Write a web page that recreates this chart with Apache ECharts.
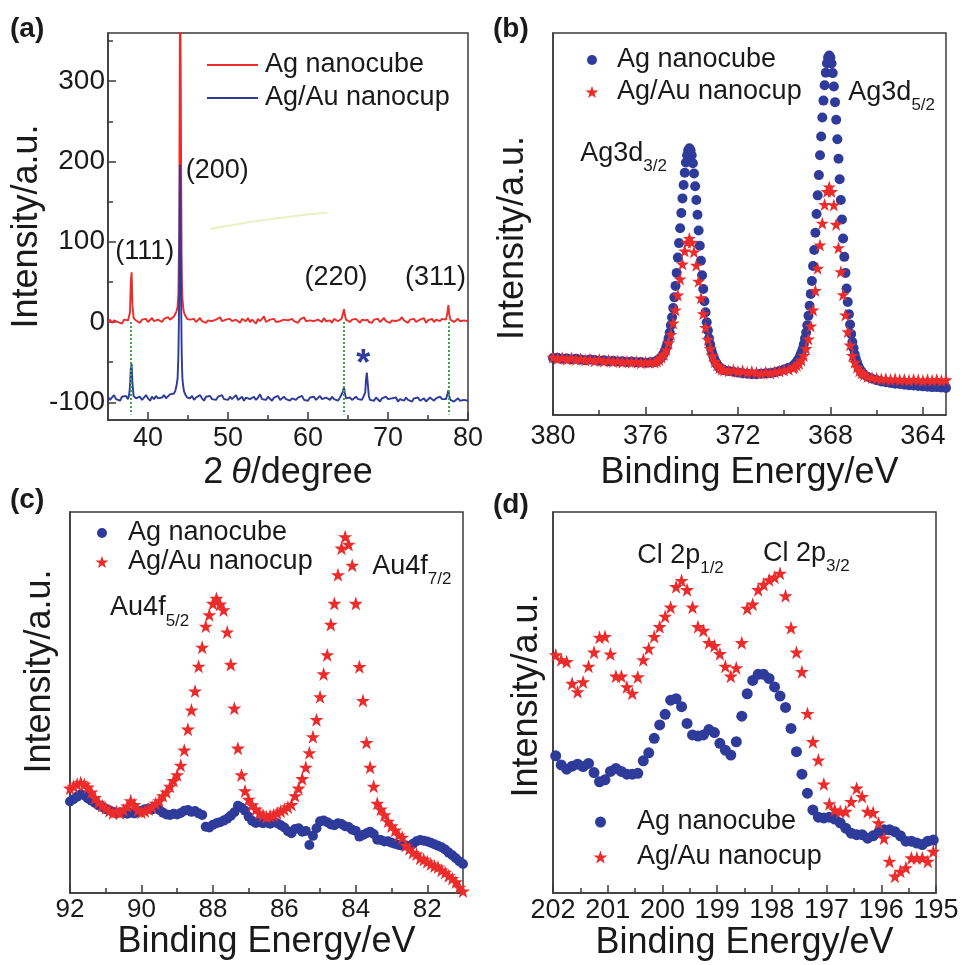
<!DOCTYPE html>
<html>
<head>
<meta charset="utf-8">
<title>XRD / XPS of Ag nanocubes and Ag/Au nanocups</title>
<script src="https://cdn.jsdelivr.net/npm/echarts@6/dist/echarts.min.js"></script>
<style>
  html, body { margin: 0; padding: 0; background: #fff; }
  #chart { width: 962px; height: 965px; }
</style>
</head>
<body>
<div id="chart"></div>
<script>
// ---------- (a) XRD ----------
const aX = [
  35, 35.25, 35.5, 35.75, 36, 36.25, 36.5, 36.75, 37, 37.25, 37.5,
  37.65, 37.75, 37.85, 37.95, 38.05, 38.2,
  38.5, 38.75, 39, 39.25, 39.5, 39.75, 40, 40.25, 40.5, 40.75, 41, 41.25, 41.5, 41.75, 42, 42.25, 42.5, 42.75, 43, 43.25,
  43.4, 43.55, 43.7, 43.8, 43.9, 43.95, 44, 44.05, 44.1, 44.15, 44.2, 44.25, 44.3, 44.4, 44.5, 44.65, 44.9,
  45.25, 45.5, 45.75, 46, 46.25, 46.5, 46.75, 47, 47.25, 47.5, 47.75, 48, 48.25, 48.5, 48.75, 49, 49.25, 49.5, 49.75, 50,
  50.25, 50.5, 50.75, 51, 51.25, 51.5, 51.75, 52, 52.25, 52.5, 52.75, 53, 53.25, 53.5, 53.75, 54, 54.25, 54.5, 54.75, 55,
  55.25, 55.5, 55.75, 56, 56.25, 56.5, 56.75, 57, 57.25, 57.5, 57.75, 58, 58.25, 58.5, 58.75, 59, 59.25, 59.5, 59.75, 60,
  60.25, 60.5, 60.75, 61, 61.25, 61.5, 61.75, 62, 62.25, 62.5, 62.75, 63, 63.25, 63.5, 63.75, 64,
  64.2, 64.35, 64.5, 64.6, 64.75,
  65, 65.25, 65.5, 65.75, 66, 66.25, 66.5, 66.75, 67,
  67.15, 67.25, 67.35, 67.45, 67.6,
  67.75, 68, 68.25, 68.5, 68.75, 69, 69.25, 69.5, 69.75, 70, 70.25, 70.5, 70.75, 71, 71.25, 71.5, 71.75, 72, 72.25, 72.5,
  72.75, 73, 73.25, 73.5, 73.75, 74, 74.25, 74.5, 74.75, 75, 75.25, 75.5, 75.75, 76, 76.25, 76.5, 76.75, 77, 77.25,
  77.35, 77.45, 77.55, 77.65, 77.8,
  78, 78.25, 78.5, 78.75, 79, 79.25, 79.5, 79.75, 80
];
// Ag nanocube
const aRed = [
  0, 3, -1, 2, 4, 0, 1, -2, 3, 1, 2,
  4, 12, 50, 62, 22, 5,
  2, 2, -1, 3, 1, 4, 0, 2, 5, 1, -1, 3, 2, 0, 4, 2, 6, 3, 5, 7,
  10, 13, 19, 34, 115, 250, 385, 390, 290, 170, 85, 48, 30, 18, 12, 8, 4,
  3, 1, 4, 0, 2, 5, 1, 3, -1, 2, 4, 1, 0, 3, 2, 6, 1, -1, 3, 2,
  4, 1, 0, 3, 2, -1, 4, 2, 1, 5, 0, 3, 2, -2, 4, 1, 3, 7, 0, 2,
  3, 1, 4, 0, 2, 1, -1, 3, 5, 2, 0, 4, 1, 2, -1, 3, 2, 6, 1, 0,
  2, 4, 1, -1, 3, 2, 0, 5, 1, 3, 2, -1, 4, 2, 1, 3,
  4, 10, 16, 9, 3,
  2, 0, 3, 1, 4, 2, -1, 3, 1,
  2, 4, 1, 3, 0,
  2, -1, 3, 1, 4, 0, 2, 5, 1, 3, -1, 2, 4, 1, 0, 3, 6, 2, 1, -1,
  3, 2, 4, 0, 1, 3, 2, 5, -1, 2, 1, 4, 0, 3, 2, 1, 4, 2, 3,
  5, 13, 21, 10, 3,
  3, 0, 2, 4, 1, -1, 2, 3, 1
];
// Ag/Au nanocup
const aBlue = [
  -93, -97, -95, -91, -96, -94, -98, -93, -95, -92, -96,
  -90, -80, -58, -52, -75, -92,
  -95, -96, -93, -97, -94, -91, -95, -98, -93, -96, -92, -95, -97, -94, -91, -95, -93, -90, -92, -89,
  -86, -80, -70, -42, 30, 120, 196, 175, 95, 20, -30, -55, -70, -80, -86, -90, -94,
  -95, -92, -97, -94, -96, -91, -95, -98, -93, -95, -92, -96, -94, -97, -93, -95, -91, -96, -94, -97,
  -93, -96, -94, -91, -97, -95, -93, -98, -94, -92, -96, -95, -93, -97, -94, -90, -96, -95, -97, -93,
  -95, -98, -94, -96, -92, -97, -95, -93, -96, -94, -98, -95, -93, -97, -94, -96, -92, -97, -95, -98,
  -94, -96, -93, -97, -95, -92, -96, -98, -94, -95, -97, -93, -96, -95, -98, -94,
  -94, -87, -81, -88, -95,
  -96, -94, -97, -95, -93, -96, -94, -97, -95,
  -88, -72, -63, -74, -92,
  -97, -95, -98, -94, -96, -99, -95, -97, -93, -96, -98, -95, -97, -94, -99, -96, -95, -98, -94, -97,
  -96, -99, -95, -97, -94, -98, -96, -95, -99, -97, -94, -96, -98, -95, -97, -93, -96, -98, -96,
  -94, -89, -85, -92, -97,
  -96, -99, -97, -95, -98, -100, -97, -99, -98
];
const aGuideX = [37.85, 64.5, 77.55];
const aGuideY = [0, -115];
const aSmudgeX = [47.75, 51.5, 54.9, 58.6, 62.4];
const aSmudgeY = [116, 122.5, 127.5, 132.5, 136];
const aNoteText = ['(111)', '(200)', '(220)', '(311)', '*'];
const aNoteX = [39.6, 48.65, 63.5, 75.95, 66.9];
const aNoteY = [87.5, 189, 55, 55, -53];
const aXTicks = [40, 50, 60, 70, 80];
const aXMinor = [45, 55, 65, 75];
const aYTicks = [-100, 0, 100, 200, 300];
const aYMinor = [-50, 50, 150, 250, 350];

// ---------- (b) Ag3d ----------
const bLeftX = [380, 379.8, 379.6, 379.4, 379.2, 379, 378.8, 378.6, 378.4, 378.2, 378, 377.8, 377.6, 377.4, 377.2, 377, 376.8, 376.6, 376.4, 376.2, 376, 375.8];
const bLeftBlue = [14.9, 15.0, 14.7, 14.8, 14.6, 14.7, 14.5, 14.3, 14.5, 14.4, 14.2, 14.3, 14.1, 14.2, 14.0, 14.1, 13.9, 14.0, 13.8, 13.9, 13.7, 13.8];
const bLeftRed = [15.1, 14.8, 15.0, 14.6, 14.9, 14.5, 14.7, 14.4, 14.6, 14.2, 14.5, 14.1, 14.3, 14.0, 14.2, 13.9, 14.1, 13.8, 14.0, 13.7, 13.9, 13.8];
const bPk1X = [375.6, 375.55, 375.5, 375.45, 375.4, 375.35, 375.3, 375.25, 375.2, 375.15, 375.1, 375.05, 375, 374.95, 374.9, 374.85, 374.8, 374.75, 374.7, 374.65,
  374.6, 374.55, 374.5, 374.45, 374.4, 374.35, 374.3, 374.25, 374.2, 374.15, 374.1, 374.05, 374, 373.95, 373.9, 373.85, 373.8, 373.75, 373.7, 373.65,
  373.6, 373.55, 373.5, 373.45, 373.4, 373.35, 373.3, 373.25, 373.2, 373.15, 373.1, 373.05, 373, 372.95, 372.9, 372.85, 372.8, 372.75, 372.7, 372.65, 372.6];
const bPk1Blue = [13.9, 14.0, 14.2, 14.4, 14.6, 14.9, 15.2, 15.7, 16.2, 16.9, 17.8, 18.8, 20.1, 21.6, 23.5, 25.6, 28.0, 30.8, 33.8, 37.2,
  41.2, 45.0, 48.9, 52.9, 56.7, 60.2, 63.4, 66.1, 68.0, 69.3, 69.8, 69.3, 68.0, 65.9, 63.2, 59.9, 56.3, 52.4, 48.3, 44.3,
  40.4, 36.6, 33.0, 29.8, 26.9, 24.3, 22.1, 20.1, 18.5, 17.1, 16.0, 15.1, 14.3, 13.7, 13.2, 12.8, 12.4, 12.2, 12.0, 11.8, 11.7];
const bPk1RedX = [375.6, 375.5, 375.4, 375.3, 375.2, 375.1, 375, 374.9, 374.8, 374.7, 374.6, 374.5, 374.4, 374.3, 374.2, 374.1,
  374, 373.9, 373.8, 373.7, 373.6, 373.5, 373.4, 373.3, 373.2, 373.1, 373, 372.9, 372.8, 372.7, 372.6];
const bPk1Red = [13.8, 14.1, 14.5, 15.1, 15.9, 17.1, 18.9, 21.1, 24.1, 27.5, 31.4, 35.6, 39.5, 42.9, 45.2, 46.2,
  45.2, 42.7, 39.2, 35.0, 30.6, 26.5, 22.9, 19.8, 17.4, 15.5, 14.0, 13.1, 12.4, 12.0, 11.8];
const bMidX = [372.4, 372.2, 372, 371.8, 371.6, 371.4, 371.2, 371, 370.8, 370.6, 370.4, 370.2, 370, 369.8, 369.6];
const bMidBlue = [11.5, 11.3, 11.1, 10.9, 10.8, 10.7, 10.7, 10.8, 10.9, 11.0, 11.2, 11.5, 11.9, 12.4, 12.9];
const bMidRed = [11.6, 11.8, 11.4, 11.6, 11.2, 11.4, 11.1, 10.9, 11.2, 11.0, 11.3, 11.5, 11.8, 12.0, 12.3];
const bPk2X = [369.55, 369.5, 369.45, 369.4, 369.35, 369.3, 369.25, 369.2, 369.15, 369.1, 369.05, 369, 368.95, 368.9, 368.85, 368.8, 368.75, 368.7, 368.65, 368.6,
  368.55, 368.5, 368.45, 368.4, 368.35, 368.3, 368.25, 368.2, 368.15, 368.1, 368.05, 368, 367.95, 367.9, 367.85, 367.8, 367.75, 367.7, 367.65, 367.6,
  367.55, 367.5, 367.45, 367.4, 367.35, 367.3, 367.25, 367.2, 367.15, 367.1, 367.05, 367, 366.95, 366.9, 366.85, 366.8, 366.75, 366.7, 366.65, 366.6, 366.55];
const bPk2Blue = [13.3, 13.5, 14.0, 14.4, 14.9, 15.6, 16.4, 17.3, 18.5, 20.0, 21.6, 23.5, 26.0, 28.6, 31.7, 35.1, 39.0, 43.2, 47.7, 52.6,
  57.5, 62.8, 68.0, 72.9, 77.9, 82.3, 86.3, 89.6, 92.1, 93.6, 94.1, 93.6, 92.0, 89.5, 86.0, 81.9, 77.3, 72.2, 67.1, 61.7,
  56.3, 51.2, 46.2, 41.4, 37.2, 33.1, 29.6, 26.4, 23.7, 21.2, 19.1, 17.5, 15.9, 14.7, 13.8, 12.9, 12.2, 11.7, 11.3, 10.8, 10.6];
const bPk2RedX = [369.55, 369.45, 369.35, 369.25, 369.15, 369.05, 368.95, 368.85, 368.75, 368.65, 368.55, 368.45, 368.35, 368.25, 368.15, 368.05,
  367.95, 367.85, 367.75, 367.65, 367.55, 367.45, 367.35, 367.25, 367.15, 367.05, 366.95, 366.85, 366.75, 366.65, 366.55];
const bPk2Red = [12.6, 13.0, 13.5, 14.4, 15.6, 17.4, 19.9, 23.3, 27.5, 32.6, 38.4, 44.5, 50.2, 55.1, 58.5, 59.7,
  58.5, 55.0, 49.9, 43.8, 37.5, 31.5, 26.2, 21.8, 18.3, 15.6, 13.8, 12.5, 11.6, 11.0, 10.6];
const bRightX = [366.4, 366.2, 366, 365.8, 365.6, 365.4, 365.2, 365, 364.8, 364.6, 364.4, 364.2, 364, 363.8, 363.6, 363.4, 363.2, 363];
const bRightBlue = [10.0, 9.5, 9.1, 8.8, 8.6, 8.4, 8.2, 8.1, 7.9, 7.8, 7.7, 7.6, 7.5, 7.4, 7.3, 7.3, 7.2, 7.1];
const bRightRed = [10.1, 9.8, 9.6, 9.4, 9.5, 9.3, 9.4, 9.2, 9.3, 9.1, 9.3, 9.2, 9.0, 9.2, 9.1, 9.3, 9.0, 9.2];
const bNoteText = ['{m|Ag3d}{s|3/2}', '{m|Ag3d}{s|5/2}'];
const bNoteX = [376.95, 365.35];
const bNoteY = [68.5, 84.5];
const bXTicks = [364, 368, 372, 376, 380];
const bXMinor = [366, 370, 374, 378];

// ---------- (c) Au4f ----------
const cX = [
  92, 91.9, 91.8, 91.7, 91.6, 91.5, 91.4, 91.3, 91.2, 91.1,
  91, 90.9, 90.8, 90.7, 90.6, 90.5, 90.4, 90.3, 90.2, 90.1,
  90, 89.9, 89.8, 89.7, 89.6, 89.5, 89.4, 89.3, 89.2, 89.1,
  89, 88.9, 88.8, 88.7, 88.6, 88.5, 88.4, 88.3, 88.2, 88.1,
  88, 87.9, 87.8, 87.7, 87.6, 87.5, 87.4, 87.3, 87.2, 87.1,
  87, 86.9, 86.8, 86.7, 86.6, 86.5, 86.4, 86.3, 86.2, 86.1,
  86, 85.9, 85.8, 85.7, 85.6, 85.5, 85.4, 85.3, 85.2, 85.1,
  85, 84.9, 84.8, 84.7, 84.6, 84.5, 84.4, 84.3, 84.2, 84.1,
  84, 83.9, 83.8, 83.7, 83.6, 83.5, 83.4, 83.3, 83.2, 83.1,
  83, 82.9, 82.8, 82.7, 82.6, 82.5, 82.4, 82.3, 82.2, 82.1,
  82, 81.9, 81.8, 81.7, 81.6, 81.5, 81.4, 81.3, 81.2, 81.1,
  81
];
const cBlue = [
  24.0, 24.6, 25.3, 25.9, 25.6, 24.8, 24.2, 23.6, 23.0, 22.6,
  22.0, 21.7, 21.3, 21.0, 21.2, 21.0, 20.8, 21.1, 20.9, 21.3,
  21.6, 22.0, 22.2, 21.9, 22.3, 21.8, 21.1, 20.6, 20.5, 20.8,
  20.6, 21.0, 21.6, 21.8, 21.3, 21.5, 20.9, 20.5, 17.4, 17.2,
  17.9, 18.3, 18.6, 19.0, 19.5, 20.3, 21.2, 22.9, 22.4, 21.6,
  20.0, 18.9, 18.4, 18.6, 18.3, 18.5, 18.2, 18.6, 18.3, 17.8,
  17.2, 16.2, 15.7, 16.8, 17.0, 16.1, 16.3, 12.6, 15.0, 17.0,
  18.8, 19.0, 18.6, 18.0, 17.8, 18.3, 18.1, 17.5, 17.3, 16.6,
  16.3, 14.8, 15.2, 15.7, 16.1, 15.5, 14.0, 13.9, 13.5, 13.6,
  13.2, 12.9, 12.6, 12.4, 12.5, 12.2, 12.9, 13.6, 13.9, 13.7,
  13.5, 13.2, 12.8, 12.4, 12.0, 11.4, 10.6, 9.9, 9.1, 8.3,
  7.6
];
const cRed = [
  27.5, 28.0, 28.6, 29.0, 28.5, 27.8, 26.5, 25.0, 23.8, 22.9,
  22.3, 21.6, 21.0, 21.4, 21.0, 21.8, 22.8, 24.2, 23.2, 21.8,
  21.2, 21.5, 22.0, 22.6, 23.5, 24.2, 25.5, 26.5, 28.0, 29.5,
  31.0, 33.5, 37.5, 43.0, 48.0, 53.0, 59.5, 64.5, 70.0, 73.0,
  76.0, 77.3, 75.8, 74.3, 68.5, 60.0, 48.5, 38.0, 31.0, 26.8,
  24.6, 23.1, 22.0, 21.0, 20.5, 20.0, 20.3, 20.5, 21.0, 21.5,
  22.0, 22.6, 23.2, 25.5, 27.5, 30.0, 33.0, 36.8, 41.0, 45.5,
  51.5, 57.5, 62.5, 70.5, 76.0, 83.5, 90.5, 93.5, 91.5, 86.0,
  76.0, 59.4, 50.5, 39.5, 33.0, 28.0, 23.5, 22.0, 20.5, 18.8,
  17.6, 16.5, 15.2, 14.6, 12.5, 11.6, 10.6, 10.2, 9.1, 8.8,
  8.2, 7.6, 7.1, 6.8, 6.0, 5.4, 4.5, 3.8, 2.9, 1.5,
  0.5
];
const cNoteText = ['{m|Au4f}{s|5/2}', '{m|Au4f}{s|7/2}'];
const cNoteX = [89.77, 82.43];
const cNoteY = [74.8, 85.8];
const cXTicks = [82, 84, 86, 88, 90, 92];
const cXMinor = [83, 85, 87, 89, 91];

// ---------- (d) Cl 2p ----------
const dX = [
  201.95, 201.85, 201.75, 201.65, 201.55, 201.45, 201.35, 201.25, 201.15, 201.05,
  200.95, 200.85, 200.75, 200.65, 200.55, 200.45, 200.35, 200.25, 200.15, 200.05,
  199.95, 199.85, 199.75, 199.65, 199.55, 199.45, 199.35, 199.25, 199.15, 199.05,
  198.95, 198.85, 198.75, 198.65, 198.55, 198.45, 198.35, 198.25, 198.15, 198.05,
  197.95, 197.85, 197.75, 197.65, 197.55, 197.45, 197.35, 197.25, 197.15, 197.05,
  196.95, 196.85, 196.75, 196.65, 196.55, 196.45, 196.35, 196.25, 196.15, 196.05,
  195.95, 195.85, 195.75, 195.65, 195.55, 195.45, 195.35, 195.25, 195.15, 195.05
];
const dBlue = [
  36.0, 33.6, 32.5, 33.3, 33.8, 33.2, 34.0, 31.6, 29.2, 29.7,
  31.9, 32.7, 31.9, 31.2, 31.2, 31.4, 34.7, 36.8, 40.6, 44.1,
  46.9, 50.6, 51.0, 48.9, 44.5, 41.5, 41.2, 41.5, 42.9, 42.1,
  39.3, 37.5, 36.2, 39.7, 46.4, 52.3, 55.8, 57.4, 57.4, 56.3,
  54.1, 51.7, 48.7, 43.2, 37.1, 31.2, 26.2, 21.8, 19.9, 19.7,
  19.9, 19.4, 18.4, 17.0, 15.7, 15.3, 15.3, 14.4, 15.0, 15.9,
  16.6, 16.6, 16.1, 15.0, 13.6, 13.6, 13.1, 12.7, 13.6, 13.9
];
const dRed = [
  62.5, 61.2, 60.7, 55.0, 52.8, 55.4, 59.5, 63.2, 67.1, 67.3,
  62.7, 56.9, 56.9, 54.1, 52.4, 56.7, 61.2, 64.2, 67.3, 69.9,
  72.6, 75.0, 80.4, 82.0, 79.6, 75.0, 69.9, 68.9, 65.7, 64.9,
  62.8, 59.5, 56.9, 59.1, 65.7, 74.7, 75.8, 79.6, 81.0, 82.2,
  82.9, 83.9, 78.0, 69.6, 63.2, 58.1, 47.1, 39.7, 34.9, 28.6,
  23.4, 21.8, 21.4, 21.4, 24.0, 27.5, 25.3, 21.4, 21.1, 18.4,
  14.4, 8.3, 4.4, 5.7, 6.6, 9.2, 9.2, 9.2, 8.3, 10.9
];
const dNoteText = ['{m|Cl 2p}{s|1/2}', '{m|Cl 2p}{s|3/2}'];
const dNoteX = [199.67, 197.37];
const dNoteY = [88.7, 89.2];
const dXTicks = [195, 196, 197, 198, 199, 200, 201, 202];
const dXMinor = [195.5, 196.5, 197.5, 198.5, 199.5, 200.5, 201.5];

// ---------- styling ----------
const FONT = '"Liberation Sans", Arial, Helvetica, sans-serif';
const RED = '#ec2b2b';
const BLUE = '#2e3b9b';
const GREEN = '#3da843';
const INK = '#1a1a1a';
const FRAME = '#3a3a3a';
const STAR = 'path://M50,4 L61.8,38.2 L97.6,38.2 L68.6,59.5 L79.4,93.1 L50,72.4 L20.6,93.1 L31.4,59.5 L2.4,38.2 L38.2,38.2 Z';

const zip = (xs, ys) => xs.map((x, i) => [x, ys[i]]);
const notes = (txt, xs, ys) => txt.map((t, i) => ({ name: t, value: [xs[i], ys[i]] }));

const noteRich = {
  m: { fontSize: 27, fontFamily: FONT, color: INK },
  s: { fontSize: 17, fontFamily: FONT, color: INK, padding: [26, 0, 0, 0] }
};

function xPair(grid, min, max, major, minor, o) {
  const base = { type: 'value', gridIndex: grid, min: min, max: max, inverse: !!o.inverse, position: 'bottom', splitLine: { show: false } };
  return [
    Object.assign({}, base, {
      axisLine: { show: true, onZero: false, lineStyle: { color: FRAME, width: 1.5 } },
      axisTick: { show: true, inside: true, length: 8, customValues: major, lineStyle: { color: FRAME, width: 1.5 } },
      axisLabel: { show: true, customValues: major, margin: o.margin, fontSize: o.size, fontFamily: FONT, color: INK },
      name: o.name, nameLocation: 'middle', nameGap: o.gap,
      nameTextStyle: Object.assign({ fontSize: 36, fontFamily: FONT, color: INK }, o.nameStyle || {})
    }),
    Object.assign({}, base, {
      axisLine: { show: false, onZero: false },
      axisTick: { show: true, inside: true, length: 5, customValues: minor, lineStyle: { color: FRAME, width: 1.5 } },
      axisLabel: { show: false }
    })
  ];
}

function yPlain(grid, gap, pad) {
  return {
    type: 'value', gridIndex: grid, min: 0, max: 100, position: 'left',
    axisLine: { show: true, onZero: false, lineStyle: { color: FRAME, width: 1.5 } },
    axisTick: { show: false }, axisLabel: { show: false }, splitLine: { show: false },
    name: 'Intensity/a.u.', nameLocation: 'middle', nameGap: gap,
    nameTextStyle: { fontSize: 36, fontFamily: FONT, color: INK, padding: pad }
  };
}

function legendOne(name, icon, color, left, top, w, h, pad) {
  return {
    show: true, selectedMode: false, orient: 'vertical', left: left, top: top, padding: 0,
    itemWidth: w, itemHeight: h, itemGap: 0,
    data: [{ name: name, icon: icon, itemStyle: { color: color, borderWidth: 0, opacity: 1 } }],
    textStyle: { fontSize: 27, fontFamily: FONT, color: INK, lineHeight: 30, padding: [0, 0, 0, pad] }
  };
}

function noteSeries(xi, yi, data) {
  return {
    type: 'scatter', xAxisIndex: xi, yAxisIndex: yi, symbolSize: 1, silent: true, z: 5,
    itemStyle: { color: 'rgba(0,0,0,0)', opacity: 1 },
    label: { show: true, position: 'inside', formatter: p => p.name, color: INK, fontSize: 27, fontFamily: FONT, textBorderWidth: 0, rich: noteRich },
    data: data
  };
}

function dots(name, xi, yi, data, color, symbol, size) {
  return { name: name, type: 'scatter', xAxisIndex: xi, yAxisIndex: yi, symbol: symbol, symbolSize: size,
    itemStyle: { color: color, opacity: 1 }, data: data };
}

const aNotes = notes(aNoteText, aNoteX, aNoteY);
aNotes[4].label = { fontSize: 36, fontWeight: 'bold', color: BLUE };

const panelTitle = (text, left, top) => ({
  text: text, left: left, top: top, padding: 0,
  textStyle: { fontSize: 28, fontWeight: 'bold', fontFamily: FONT, color: INK }
});

const option = {
  animation: false,
  backgroundColor: '#fff',
  title: [
    panelTitle('(a)', 10, 15),
    panelTitle('(b)', 493, 15),
    panelTitle('(c)', 10, 486),
    panelTitle('(d)', 493, 491)
  ],
  grid: [
    { left: 108, top: 33, width: 360, height: 387, show: true, borderColor: FRAME, borderWidth: 1.5 },
    { left: 553, top: 33, width: 393, height: 382, show: true, borderColor: FRAME, borderWidth: 1.5 },
    { left: 70, top: 512, width: 393, height: 381, show: true, borderColor: FRAME, borderWidth: 1.5 },
    { left: 553, top: 512, width: 383, height: 381, show: true, borderColor: FRAME, borderWidth: 1.5 }
  ],
  xAxis: [].concat(
    xPair(0, 35, 80, aXTicks, aXMinor, {
      margin: 5, size: 27, gap: 35, name: '{n|2}{i|θ}{n|/degree}',
      nameStyle: { rich: {
        n: { fontSize: 36, fontFamily: FONT, color: INK },
        i: { fontSize: 36, fontFamily: FONT, color: INK, fontStyle: 'italic', padding: [0, 0, 0, 8] }
      } }
    }),
    xPair(1, 363, 380, bXTicks, bXMinor, { inverse: true, margin: 8, size: 27, gap: 40, name: 'Binding Energy/eV' }),
    xPair(2, 81, 92, cXTicks, cXMinor, { inverse: true, margin: 4, size: 26, gap: 29, name: 'Binding Energy/eV' }),
    xPair(3, 195, 202, dXTicks, dXMinor, { inverse: true, margin: 4, size: 27, gap: 29, name: 'Binding Energy/eV' })
  ),
  yAxis: [
    {
      type: 'value', gridIndex: 0, min: -122, max: 360, position: 'left',
      axisLine: { show: true, onZero: false, lineStyle: { color: FRAME, width: 1.5 } },
      axisTick: { show: true, inside: true, length: 8, customValues: aYTicks, lineStyle: { color: FRAME, width: 1.5 } },
      axisLabel: { show: true, customValues: aYTicks, margin: 3, fontSize: 28, fontFamily: FONT, color: INK },
      splitLine: { show: false },
      name: 'Intensity/a.u.', nameLocation: 'middle', nameGap: 57,
      nameTextStyle: { fontSize: 36, fontFamily: FONT, color: INK }
    },
    {
      type: 'value', gridIndex: 0, min: -122, max: 360, position: 'left',
      axisLine: { show: false, onZero: false },
      axisTick: { show: true, inside: true, length: 5, customValues: aYMinor, lineStyle: { color: FRAME, width: 1.5 } },
      axisLabel: { show: false }, splitLine: { show: false }
    },
    yPlain(1, 22, [0, 28, 0, 0]),
    yPlain(2, 12, [0, 0, 0, 62]),
    yPlain(3, 8, [0, 0, 0, 14])
  ],
  legend: [
    legendOne('Ag nanocube', 'rect', RED, 207, 50, 51, 2, 2),
    legendOne('Ag/Au nanocup', 'rect', BLUE, 207, 83, 51, 2, 2),
    legendOne('Ag nanocube', 'circle', BLUE, 587, 45, 10, 10, 15),
    legendOne('Ag/Au nanocup', STAR, RED, 585.5, 77, 13, 13, 13.5),
    legendOne('Ag nanocube', 'circle', BLUE, 97, 518, 10, 10, 16),
    legendOne('Ag/Au nanocup', STAR, RED, 95.5, 547, 13, 13, 14.5),
    legendOne('Ag nanocube', 'circle', BLUE, 595, 807, 11, 11, 26),
    legendOne('Ag/Au nanocup', STAR, RED, 593.5, 842, 14, 14, 24.5)
  ],
  series: [
    // (a)
    { name: 'smudge', type: 'line', xAxisIndex: 0, yAxisIndex: 0, smooth: true, symbol: 'none', silent: true,
      lineStyle: { color: '#eaf1c2', width: 2 }, data: zip(aSmudgeX, aSmudgeY) },
    { name: 'Ag nanocube', type: 'line', xAxisIndex: 0, yAxisIndex: 0, symbol: 'none',
      lineStyle: { color: RED, width: 1.9 }, itemStyle: { color: RED }, data: zip(aX, aRed) },
    { name: 'Ag/Au nanocup', type: 'line', xAxisIndex: 0, yAxisIndex: 0, symbol: 'none',
      lineStyle: { color: BLUE, width: 1.9 }, itemStyle: { color: BLUE }, data: zip(aX, aBlue),
      markLine: {
        silent: true, symbol: 'none', label: { show: false },
        lineStyle: { color: GREEN, type: 'dotted', width: 2 },
        data: aGuideX.map(x => [{ coord: [x, aGuideY[0]] }, { coord: [x, aGuideY[1]] }])
      } },
    noteSeries(0, 0, aNotes),
    // (b)
    dots('Ag nanocube', 2, 2, zip([].concat(bLeftX, bPk1X, bMidX, bPk2X, bRightX), [].concat(bLeftBlue, bPk1Blue, bMidBlue, bPk2Blue, bRightBlue)), BLUE, 'circle', 10),
    dots('Ag/Au nanocup', 2, 2, zip([].concat(bLeftX, bPk1RedX, bMidX, bPk2RedX, bRightX), [].concat(bLeftRed, bPk1Red, bMidRed, bPk2Red, bRightRed)), RED, STAR, 13),
    noteSeries(2, 2, notes(bNoteText, bNoteX, bNoteY)),
    // (c)
    dots('Ag nanocube', 4, 3, zip(cX, cBlue), BLUE, 'circle', 10),
    dots('Ag/Au nanocup', 4, 3, zip(cX, cRed), RED, STAR, 14),
    noteSeries(4, 3, notes(cNoteText, cNoteX, cNoteY)),
    // (d)
    dots('Ag nanocube', 6, 4, zip(dX, dBlue), BLUE, 'circle', 11),
    dots('Ag/Au nanocup', 6, 4, zip(dX, dRed), RED, STAR, 14),
    noteSeries(6, 4, notes(dNoteText, dNoteX, dNoteY))
  ]
};

const chart = echarts.init(document.getElementById('chart'));
chart.setOption(option);
window.addEventListener('resize', () => chart.resize());
</script>
</body>
</html>
